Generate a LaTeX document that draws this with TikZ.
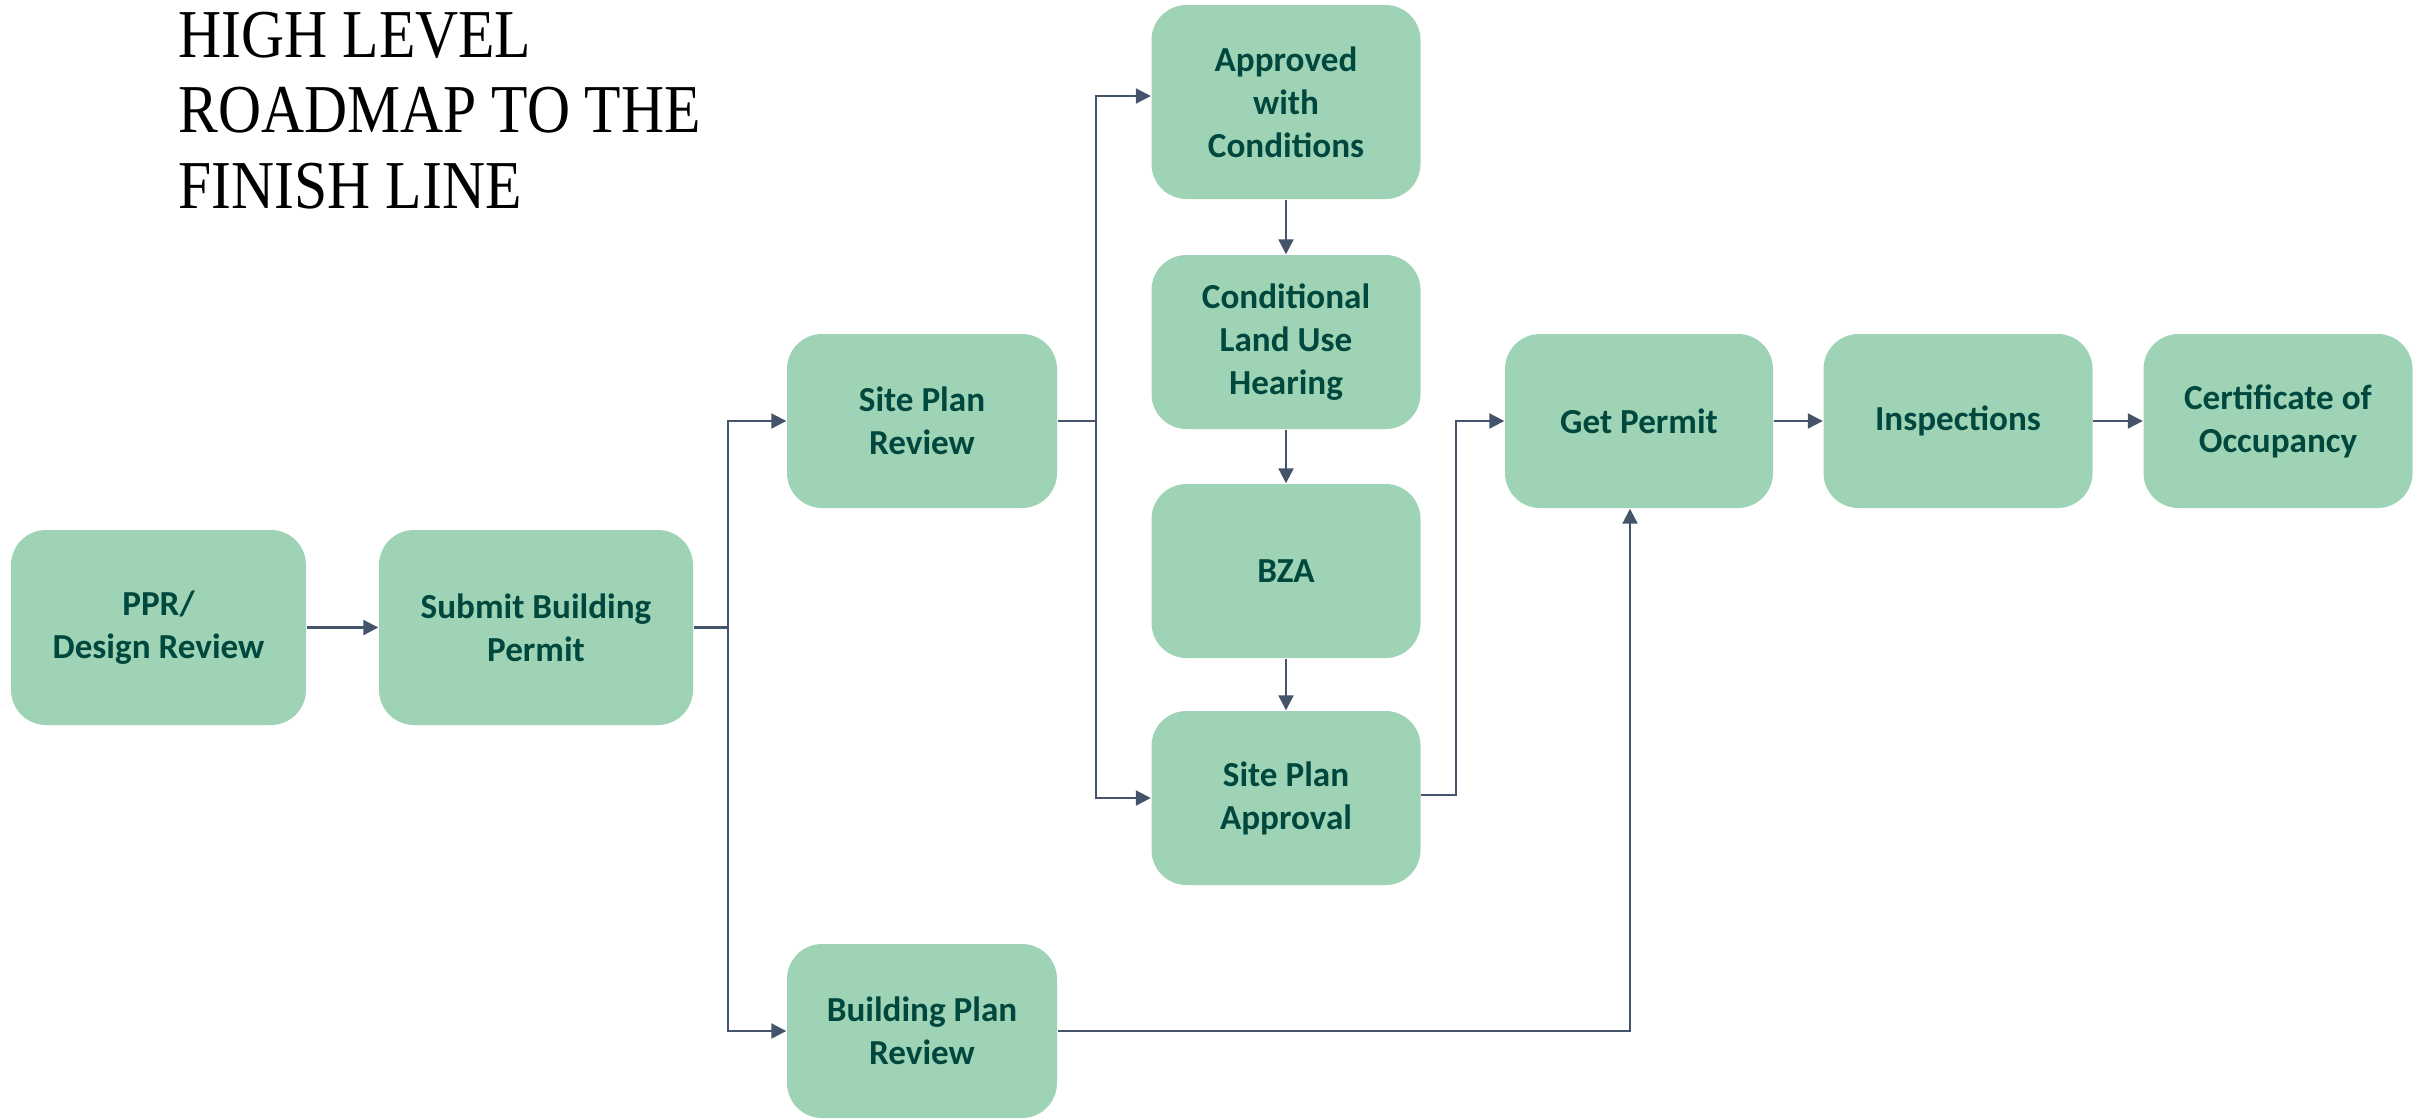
\documentclass[tikz,border=0pt]{standalone}
\usepackage{fontspec}
\newfontfamily\boxfont{Carlito}
\newfontfamily\titlefont[FakeStretch=0.87]{Liberation Serif}
\usetikzlibrary{arrows.meta}
\definecolor{boxfill}{HTML}{9ED4B5}
\definecolor{boxtext}{HTML}{00483E}
\definecolor{linecol}{HTML}{44546A}
\tikzset{
  stepbox/.style={rectangle, rounded corners=3.5mm, fill=boxfill, draw=none,
    inner sep=0pt, align=center, text=boxtext,
    font=\boxfont\bfseries\fontsize{10}{12.2}\selectfont},
  ln/.style={draw=linecol, line width=0.6pt},
  arr/.style={ln, -{Triangle[length=1.5mm, width=1.5mm]}},
  titletxt/.style={inner sep=0pt, font=\titlefont\fontsize{19.5}{21}\selectfont, text=black}
}
\begin{document}
\begin{tikzpicture}[x=0.1mm, y=-0.1mm]
\useasboundingbox (0,0) rectangle (2425,1118);
% title
\node[titletxt, anchor=base west] (t1) at (178,57) {HIGH LEVEL};
\node[titletxt, anchor=base west] (t2) at (178,132) {ROADMAP TO THE};
\node[titletxt, anchor=base west] (t3) at (178,208) {FINISH LINE};
% boxes
\node[stepbox, minimum width=29.5mm, minimum height=19.5mm] (ppr) at (158.5,627.5) {PPR/\\Design Review};
\node[stepbox, minimum width=31.4mm, minimum height=19.5mm] (sub) at (536,627.5) {Submit Building\\Permit};
\node[stepbox, minimum width=27mm, minimum height=17.4mm] (spr) at (922,421) {Site Plan\\Review};
\node[stepbox, minimum width=27mm, minimum height=17.4mm] (bpr) at (922,1031) {Building Plan\\Review};
\node[stepbox, minimum width=26.9mm, minimum height=19.4mm] (appr) at (1286,102) {Approved\\with\\Conditions};
\node[stepbox, minimum width=26.9mm, minimum height=17.4mm] (clu) at (1286,342) {Conditional\\Land Use\\Hearing};
\node[stepbox, minimum width=26.9mm, minimum height=17.4mm] (bza) at (1286,571) {BZA};
\node[stepbox, minimum width=26.9mm, minimum height=17.4mm] (spa) at (1286,798) {Site Plan\\Approval};
\node[stepbox, minimum width=26.8mm, minimum height=17.4mm] (gp) at (1639,421) {Get Permit};
\node[stepbox, minimum width=26.9mm, minimum height=17.4mm] (insp) at (1958,421) {Inspections};
\node[stepbox, minimum width=26.9mm, minimum height=17.4mm] (cert) at (2278,421) {Certificate of\\Occupancy};
% connectors
\coordinate (f1) at (728,627.5);
\coordinate (f2) at (1096,421);
\coordinate (f3) at (1456,795);
\draw[arr] (ppr.east) -- (sub.west);
\draw[ln] (sub.east) -- (f1);
\draw[arr] (f1) |- (spr.west);
\draw[arr] (f1) |- (bpr.west);
\draw[ln] (spr.east) -- (f2);
\draw[arr] (f2) |- ([yshift=0.6mm]appr.west);
\draw[arr] (f2) |- (spa.west);
\draw[arr] (appr) -- (clu);
\draw[arr] (clu) -- (bza);
\draw[arr] (bza) -- (spa);
\draw[arr] (spa.east |- f3) -- (f3) |- (gp.west);
\draw[arr] (bpr.east) -| ([xshift=-0.9mm]gp.south);
\draw[arr] (gp) -- (insp);
\draw[arr] (insp) -- (cert);
\end{tikzpicture}
\end{document}
